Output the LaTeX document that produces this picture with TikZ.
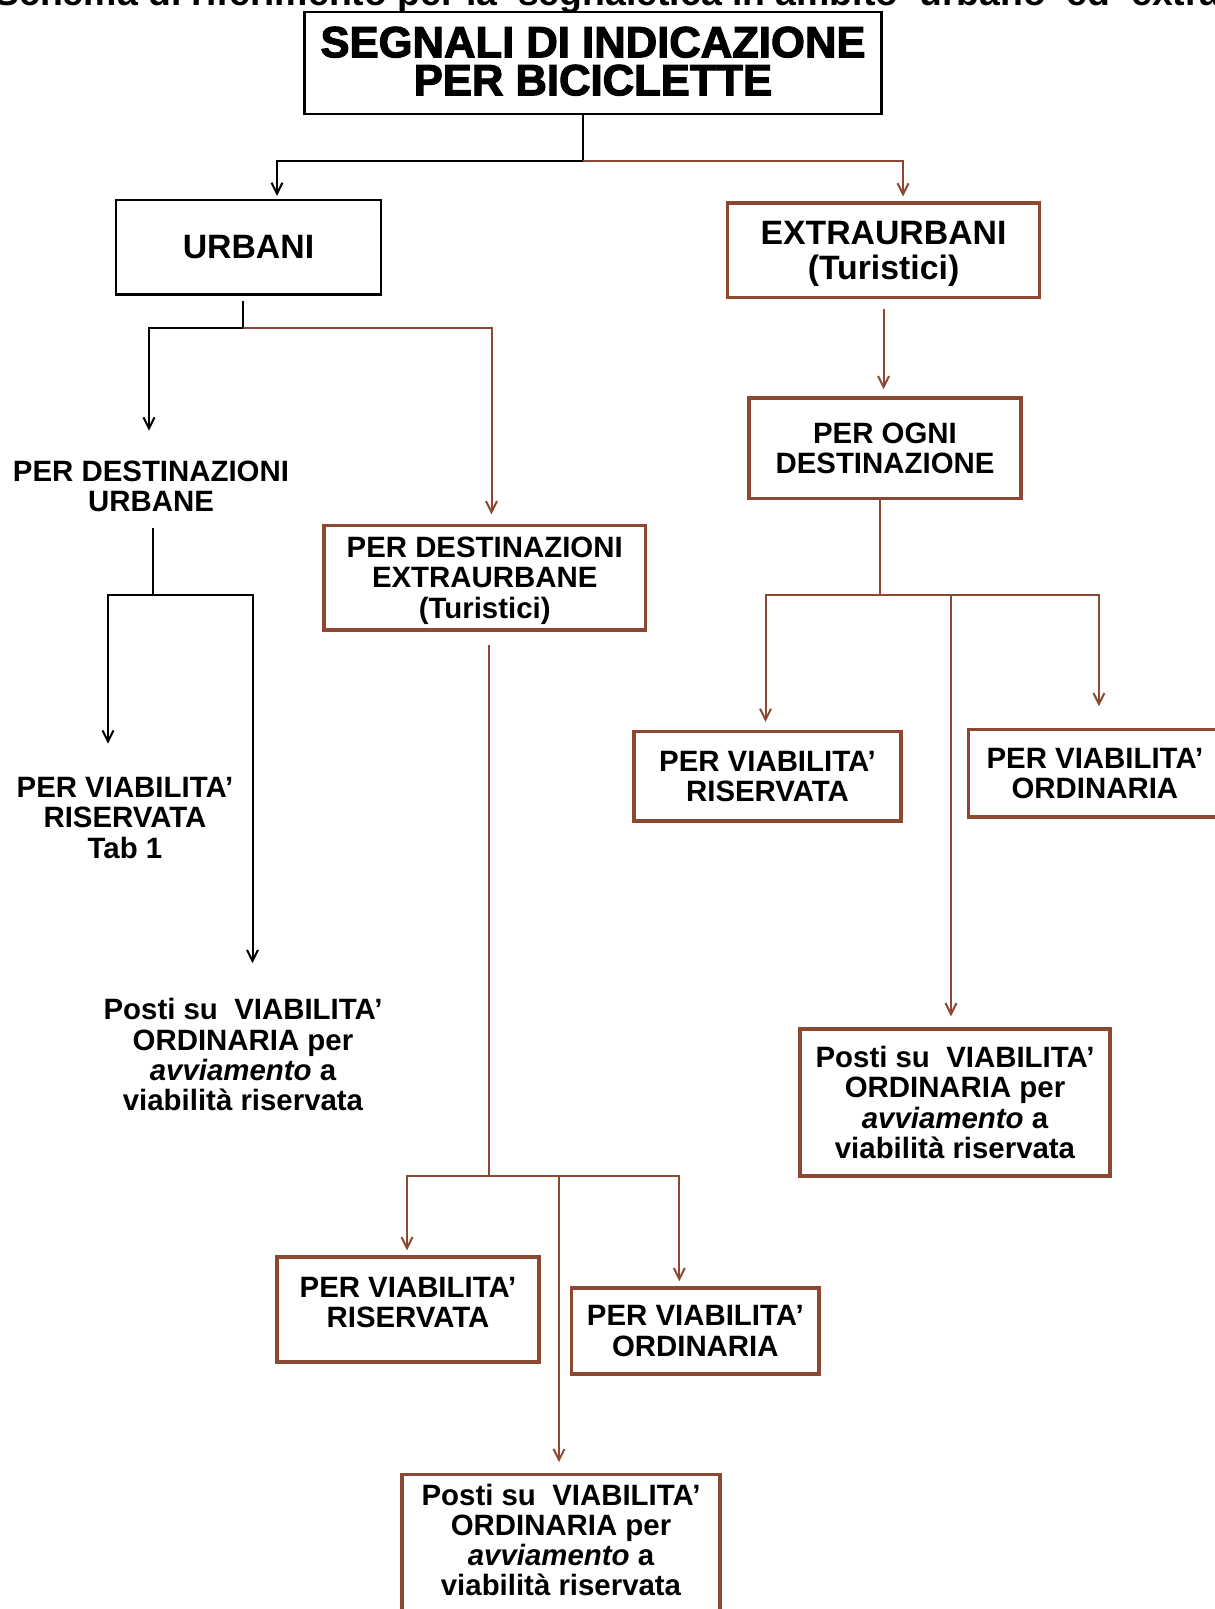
\documentclass[tikz,border=0pt]{standalone}
\usepackage{fontspec}
\setmainfont{Liberation Sans}
\newfontfamily\heavyfont{Liberation Sans}[BoldFeatures={FakeBold=2.6}]
\usetikzlibrary{arrows.meta}
\definecolor{brn}{RGB}{140,72,48}
\begin{document}
\begin{tikzpicture}[x=0.5pt,y=-0.5pt,
  lk/.style={draw=black,line width=1pt},
  lb/.style={draw=brn,line width=1pt},
  arr/.style={-{Straight Barb[length=5.5pt,width=5.5pt]}},
  bodyf/.style={font=\fontsize{14.7}{15.1}\selectfont\bfseries},
  boxk/.style={draw=black,line width=1.1pt,fill=white,inner sep=0pt,align=center,bodyf},
  boxb/.style={draw=brn,line width=1.7pt,fill=white,inner sep=0pt,align=center,bodyf},
  txt/.style={inner sep=0pt,align=center,bodyf}
]
\fill[white] (0,0) rectangle (1214,1609);
\useasboundingbox (0,0) rectangle (1214,1609);

% title (cut at the top of the page)
\node[anchor=base west,inner sep=0pt,text depth=0pt,font=\fontsize{18.7}{20}\selectfont\bfseries] (title) at (-6,6)
  {Schema di riferimento per la\ \ segnaletica in ambito\ \ urbano\ \ ed\ \ extra};

% boxes
\node[boxk,line width=1.3pt,minimum width=288.75pt,minimum height=50.85pt,text depth=2pt,
  font={\heavyfont\fontsize{21.8}{19}\selectfont\bfseries}] (top) at (593,63)
  {SEGNALI DI INDICAZIONE\\PER BICICLETTE};
\node[boxk,minimum width=132.5pt,minimum height=47.25pt,font=\fontsize{16.9}{17.5}\selectfont\bfseries]
  (urb) at (248.5,247.25) {URBANI};
\node[boxb,minimum width=156pt,minimum height=47.3pt,text depth=0pt,font=\fontsize{16.9}{17.5}\selectfont\bfseries]
  (ext) at (883.5,250.5) {EXTRAURBANI\\(Turistici)};
\node[boxb,minimum width=136pt,minimum height=50.35pt] (ogni) at (885,448.3)
  {PER OGNI\\DESTINAZIONE};
\node[boxb,minimum width=160.75pt,minimum height=52.3pt,text depth=0pt] (dex) at (484.7,577.7)
  {PER DESTINAZIONI\\EXTRAURBANE\\(Turistici)};
\node[boxb,minimum width=133.5pt,minimum height=44.65pt] (risR) at (767.5,776.3)
  {PER VIABILITA’\\RISERVATA};
\node[boxb,minimum width=126.15pt,minimum height=43.7pt] (ordR) at (1094.9,773.3)
  {PER VIABILITA’\\ORDINARIA};
\node[boxb,minimum width=155pt,minimum height=73.5pt] (postiR) at (955,1102.5)
  {Posti su\ \ VIABILITA’\\ORDINARIA per\\\textit{avviamento} a\\viabilità riservata};
\node[boxb,minimum width=131pt,minimum height=52.5pt,text depth=7pt] (risB) at (408,1309.5)
  {PER VIABILITA’\\RISERVATA};
\node[boxb,minimum width=123.7pt,minimum height=43pt] (ordB) at (695.3,1331)
  {PER VIABILITA’\\ORDINARIA};
\node[boxb,minimum width=159pt,minimum height=70.5pt,text depth=5pt] (postiB) at (561,1545)
  {Posti su\ \ VIABILITA’\\ORDINARIA per\\\textit{avviamento} a\\viabilità riservata};

% free texts
\node[txt] (destU) at (151,486) {PER DESTINAZIONI\\URBANE};
\node[txt] (risU) at (125,818) {PER VIABILITA’\\RISERVATA\\Tab 1};
\node[txt] (postiU) at (243,1054.6)
  {Posti su\ \ VIABILITA’\\ORDINARIA per\\\textit{avviamento} a\\viabilità riservata};

% junctions
\coordinate (j1) at (583,161);
\coordinate (j2) at (243,328.4);
\coordinate (j3) at (153,595);
\coordinate (j4) at (488.5,1176);
\coordinate (j5) at (879.5,595);

% top level
\draw[lk] (j1 |- top.south) -- (j1);
\draw[lk,arr,shorten >=1.5pt] (j1) -| ([xshift=14.25pt]urb.north);
\draw[lb,arr,shorten >=2.5pt] (j1) -| ([xshift=9.75pt]ext.north);

% urbani
\draw[lk,shorten <=2.75pt] (j2 |- urb.south) -- (j2);
\draw[lk,arr,shorten >=14.75pt] (j2) -| ([xshift=-1pt]destU.north);
\draw[lb,arr,shorten >=4.7pt] (j2) -| ([xshift=3.4pt]dex.north);

% destinazioni urbane
\draw[lk,shorten <=8pt] (j3 |- destU.south) -- (j3);
\draw[lk,arr,shorten >=16.75pt] (j3) -| ([xshift=-8.5pt]risU.north);
\draw[lk,arr,shorten >=17.5pt] (j3) -| ([xshift=4.75pt]postiU.north);

% destinazioni extraurbane
\draw[lb,shorten <=6.7pt] (j4 |- dex.south) -- (j4);
\draw[lb,arr,shorten >=2.5pt] (j4) -| ([xshift=-0.5pt]risB.north);
\draw[lb,arr,shorten >=2.5pt] (j4) -| ([xshift=-8pt]ordB.north);
\draw[lb,arr,shorten >=5.3pt] ([xshift=-1pt]postiB.north |- j4) -- ([xshift=-1pt]postiB.north);

% extraurbani
\draw[lb,arr,shorten <=4.7pt,shorten >=3.5pt] (ext.south) -- (ext.south |- ogni.north);
\draw[lb] (j5 |- ogni.south) -- (j5);
\draw[lb,arr,shorten >=4pt] (j5) -| ([xshift=-1pt]risR.north);
\draw[lb,arr,shorten >=10.8pt] (j5) -| ([xshift=2pt]ordR.north);
\draw[lb,arr,shorten >=5.5pt] ([xshift=-2pt]postiR.north |- j5) -- ([xshift=-2pt]postiR.north);
\end{tikzpicture}
\end{document}
